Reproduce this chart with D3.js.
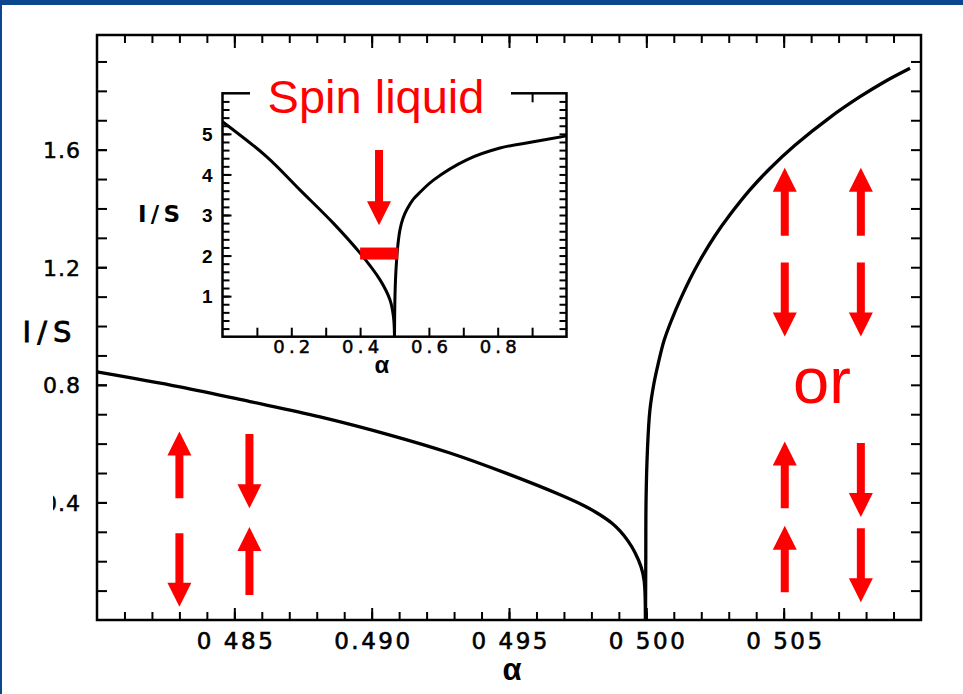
<!DOCTYPE html>
<html>
<head>
<meta charset="utf-8">
<script src="https://cdn.jsdelivr.net/npm/d3@7"></script>
<style>
body { margin: 0; background: #fff; }
svg { display: block; }
</style>
</head>
<body>
<svg id="chart" width="963" height="694"></svg>
<script>
// main curve, alpha vs 1/S (left and right of alpha = 0.5)
var mainLeftAlpha = [0.48000, 0.48302, 0.48557, 0.48812, 0.49067, 0.49285, 0.49496, 0.49686, 0.49777, 0.49831, 0.49875, 0.49904, 0.49933, 0.49959, 0.49981, 0.49992, 0.49997];
var mainLeftInvS  = [0.844, 0.793, 0.743, 0.691, 0.629, 0.568, 0.497, 0.426, 0.387, 0.358, 0.329, 0.303, 0.269, 0.229, 0.180, 0.134, 0.0];
var mainRightAlpha = [0.49997, 0.49998, 0.49999, 0.50004, 0.50013, 0.50028, 0.50043, 0.50064, 0.50093, 0.50123, 0.50159, 0.50195, 0.50250, 0.50305, 0.50377, 0.50450, 0.50541, 0.50669, 0.50778, 0.50869, 0.50960];
var mainRightInvS  = [0.0, 0.204, 0.408, 0.578, 0.714, 0.806, 0.871, 0.949, 1.023, 1.089, 1.160, 1.223, 1.307, 1.379, 1.463, 1.536, 1.615, 1.710, 1.780, 1.832, 1.877];

// inset curve, alpha 0..1
var insetLeftAlpha = [0, 0.128, 0.225, 0.322, 0.400, 0.458, 0.487, 0.497, 0.500];
var insetLeftInvS  = [5.30, 4.44, 3.62, 2.80, 2.06, 1.40, 0.905, 0.49, 0];
var insetRightAlpha = [0.500, 0.5009, 0.5029, 0.5061, 0.5102, 0.5160, 0.5247, 0.5363, 0.5549, 0.5741, 0.6131, 0.7099, 0.8067, 0.8997, 1.0];
var insetRightInvS  = [0, 0.80, 1.40, 1.89, 2.29, 2.64, 2.92, 3.14, 3.39, 3.56, 3.86, 4.36, 4.65, 4.80, 4.95];

// tick labels
var xTickValues = [0.485, 0.490, 0.495, 0.500, 0.505];
var xTickLabels = ['0 485', '0.490', '0 495', '0 500', '0 505'];
var yTickValues = [0.4, 0.8, 1.2, 1.6];
var yTickLabels = ['0.4', '0.8', '1.2', '1.6'];
var insetXTickValues = [0.2, 0.4, 0.6, 0.8];
var insetXTickLabels = ['0.2', '0.4', '0.6', '0.8'];
var insetYTickValues = [1, 2, 3, 4, 5];

// red spin arrows (alpha, tail 1/S, tip 1/S)
var arrowAlpha = [0.4830, 0.48555, 0.4830, 0.48555, 0.50504, 0.50781, 0.50504, 0.50781, 0.50504, 0.50781, 0.50504, 0.50781];
var arrowTail  = [0.414, 0.633, 0.295, 0.085, 1.307, 1.307, 1.216, 1.216, 0.380, 0.602, 0.094, 0.312];
var arrowTip   = [0.641, 0.380, 0.045, 0.316, 1.538, 1.538, 0.964, 0.964, 0.607, 0.350, 0.321, 0.060];

var svg = d3.select('#chart');

// slide border
svg.append('rect').attr('x', 0).attr('y', 0).attr('width', 963).attr('height', 5).attr('fill', '#0b468f');
svg.append('rect').attr('x', 0).attr('y', 0).attr('width', 2).attr('height', 694).attr('fill', '#0b468f');

var xScale = d3.scaleLinear().domain([0.480, 0.510]).range([97, 921]);
var yScale = d3.scaleLinear().domain([0, 1.99]).range([620, 35]);

var xMinor = d3.range(481, 510).map(d => d / 1000);
var yMinor = d3.range(1, 20).map(d => d / 10);

// axes: ticks point inward on all four sides
var addAxis = (axis, tr, size) => {
    var g = svg.append('g')
        .attr('transform', tr)
        .call(axis.tickSize(size));
    g.select('.domain').remove();
    g.selectAll('line').attr('stroke', '#000').attr('stroke-width', 2);
    return g;
}

// scanned labels: a bit heavier than the plain font
var styleLabels = (g, size, len, weight) => {
    g.selectAll('text')
        .style('font-family', '"DejaVu Sans", sans-serif')
        .style('font-size', size + 'px')
        .attr('fill', '#000')
        .attr('stroke', '#000')
        .attr('stroke-width', weight);
    if (len) {
        g.selectAll('text').attr('textLength', len).attr('lengthAdjust', 'spacing');
    }
}

addAxis(d3.axisBottom(xScale).tickValues(xMinor).tickFormat(''), 'translate(0,620)', -8);
addAxis(d3.axisTop(xScale).tickValues(xMinor).tickFormat(''), 'translate(0,35)', -8);
addAxis(d3.axisTop(xScale).tickValues(xTickValues).tickFormat(''), 'translate(0,35)', -13);
addAxis(d3.axisLeft(yScale).tickValues(yMinor).tickFormat(''), 'translate(97,0)', -10);
addAxis(d3.axisRight(yScale).tickValues(yMinor).tickFormat(''), 'translate(921,0)', -10);

var xAxisG = addAxis(d3.axisBottom(xScale).tickValues(xTickValues)
    .tickFormat((d, i) => xTickLabels[i]), 'translate(0,620)', -12);
styleLabels(xAxisG, 23, 76, 0.6);
xAxisG.selectAll('text').attr('y', 28.5).attr('dy', null);

var yAxisG = addAxis(d3.axisLeft(yScale).tickValues(yTickValues)
    .tickFormat((d, i) => yTickLabels[i]), 'translate(97,0)', -10);
styleLabels(yAxisG, 22, 37, 0.5);
yAxisG.selectAll('text').attr('x', -17).attr('dy', '0.36em');

// the scan cut the leading 0 of "0.4"
svg.append('clipPath').attr('id', 'cut04')
    .append('rect').attr('x', -44).attr('y', -20).attr('width', 44).attr('height', 40);
yAxisG.selectAll('text').filter((d) => d === 0.4).attr('clip-path', 'url(#cut04)');

svg.append('rect')
    .attr('x', 97).attr('y', 35)
    .attr('width', 921 - 97).attr('height', 620 - 35)
    .attr('fill', 'none').attr('stroke', '#000').attr('stroke-width', 2.5);

svg.append('text')
    .attr('x', 47).attr('y', 342)
    .attr('text-anchor', 'middle')
    .style('font-family', '"DejaVu Sans", sans-serif')
    .style('font-size', '29px')
    .attr('stroke', '#000')
    .attr('stroke-width', 0.8)
    .attr('textLength', 49)
    .attr('lengthAdjust', 'spacing')
    .text('I/S');

svg.append('text')
    .attr('x', 512).attr('y', 680)
    .attr('text-anchor', 'middle')
    .style('font-family', '"Liberation Sans", sans-serif')
    .style('font-weight', 'bold')
    .style('font-size', '31px')
    .text('α');

// main curve
var mainLine = d3.line()
    .x(d => xScale(d[0]))
    .y(d => yScale(d[1]))
    .curve(d3.curveCatmullRom.alpha(0.5));

[[mainLeftAlpha, mainLeftInvS], [mainRightAlpha, mainRightInvS]].forEach((s) => {
    svg.append('path')
        .datum(d3.zip(s[0], s[1]))
        .attr('d', mainLine)
        .attr('fill', 'none')
        .attr('stroke', '#000')
        .attr('stroke-width', 3.3);
});

// red arrows
var arrowPath = (x, yTail, yTip) => {
    var dir = yTip < yTail ? 1 : -1;      // 1 = pointing up on screen
    var shaft = 4, head = 12, headLen = 24;
    var yBase = yTip + dir * headLen;
    return 'M' + (x - shaft) + ',' + yTail +
        'L' + (x - shaft) + ',' + yBase +
        'L' + (x - head) + ',' + yBase +
        'L' + x + ',' + yTip +
        'L' + (x + head) + ',' + yBase +
        'L' + (x + shaft) + ',' + yBase +
        'L' + (x + shaft) + ',' + yTail + 'Z';
}

svg.selectAll('.spin')
    .data(d3.range(arrowAlpha.length))
    .enter()
    .append('path')
    .attr('class', 'spin')
    .attr('d', (i) => arrowPath(xScale(arrowAlpha[i]), yScale(arrowTail[i]), yScale(arrowTip[i])))
    .attr('fill', '#ff0000');

svg.append('text')
    .attr('x', 822).attr('y', 403)
    .attr('text-anchor', 'middle')
    .style('font-family', '"Liberation Sans", sans-serif')
    .style('font-size', '65px')
    .attr('fill', '#ff0000')
    .text('or');

// ---------------- inset ----------------
var xIn = d3.scaleLinear().domain([0, 1]).range([222.5, 566.5]);
var yIn = d3.scaleLinear().domain([0, 6]).range([336.7, 93.3]);

svg.append('rect')
    .attr('x', 222.5).attr('y', 93.3)
    .attr('width', 566.5 - 222.5).attr('height', 336.7 - 93.3)
    .attr('fill', '#fff');

var inX = d3.range(1, 10).map(d => d / 10);
var inY = d3.range(1, 30).map(d => d / 5);

addAxis(d3.axisBottom(xIn).tickValues(inX).tickFormat(''), 'translate(0,336.7)', -9);
addAxis(d3.axisTop(xIn).tickValues(inX).tickFormat(''), 'translate(0,93.3)', -9);
addAxis(d3.axisLeft(yIn).tickValues(inY).tickFormat(''), 'translate(222.5,0)', -7);
addAxis(d3.axisRight(yIn).tickValues(inY).tickFormat(''), 'translate(566.5,0)', -7);

var inXG = addAxis(d3.axisBottom(xIn).tickValues(insetXTickValues)
    .tickFormat((d, i) => insetXTickLabels[i]), 'translate(0,336.7)', -9);
inXG.selectAll('line').remove();
styleLabels(inXG, 18, 37, 0.5);
inXG.selectAll('text').attr('y', 16).attr('dy', null);

var inYG = addAxis(d3.axisLeft(yIn).tickValues(insetYTickValues)
    .tickFormat(d3.format('d')), 'translate(222.5,0)', -9);
styleLabels(inYG, 19, 0, 0);
inYG.selectAll('text')
    .attr('x', -10).attr('dy', '0.36em')
    .style('font-family', '"Liberation Sans", sans-serif')
    .style('font-weight', 'bold');

svg.append('rect')
    .attr('x', 222.5).attr('y', 93.3)
    .attr('width', 566.5 - 222.5).attr('height', 336.7 - 93.3)
    .attr('fill', 'none').attr('stroke', '#000').attr('stroke-width', 2.5);

var inLine = d3.line()
    .x(d => xIn(d[0]))
    .y(d => yIn(d[1]))
    .curve(d3.curveCatmullRom.alpha(0.5));

[[insetLeftAlpha, insetLeftInvS], [insetRightAlpha, insetRightInvS]].forEach((s) => {
    svg.append('path')
        .datum(d3.zip(s[0], s[1]))
        .attr('d', inLine)
        .attr('fill', 'none')
        .attr('stroke', '#000')
        .attr('stroke-width', 3);
});

svg.append('text')
    .attr('x', 159).attr('y', 222)
    .attr('text-anchor', 'middle')
    .style('font-family', '"DejaVu Sans", sans-serif')
    .style('font-weight', 'bold')
    .style('font-size', '23px')
    .attr('textLength', 42)
    .attr('lengthAdjust', 'spacing')
    .text('I/S');

svg.append('text')
    .attr('x', 382).attr('y', 373)
    .attr('text-anchor', 'middle')
    .style('font-family', '"Liberation Sans", sans-serif')
    .style('font-weight', 'bold')
    .style('font-size', '24px')
    .text('α');

// label over the inset's top edge
svg.append('rect')
    .attr('x', 250).attr('y', 72)
    .attr('width', 261).attr('height', 34)
    .attr('fill', '#fff');

svg.append('text')
    .attr('x', 376).attr('y', 113)
    .attr('text-anchor', 'middle')
    .style('font-family', '"Liberation Sans", sans-serif')
    .style('font-size', '47px')
    .attr('fill', '#ff0000')
    .text('Spin liquid');

svg.append('path')
    .attr('d', arrowPath(xIn(0.455), yIn(4.60), yIn(2.75)))
    .attr('fill', '#ff0000');

svg.append('rect')
    .attr('x', xIn(0.400)).attr('y', yIn(2.05) - 6)
    .attr('width', xIn(0.511) - xIn(0.400)).attr('height', 12)
    .attr('fill', '#ff0000');
</script>
</body>
</html>
